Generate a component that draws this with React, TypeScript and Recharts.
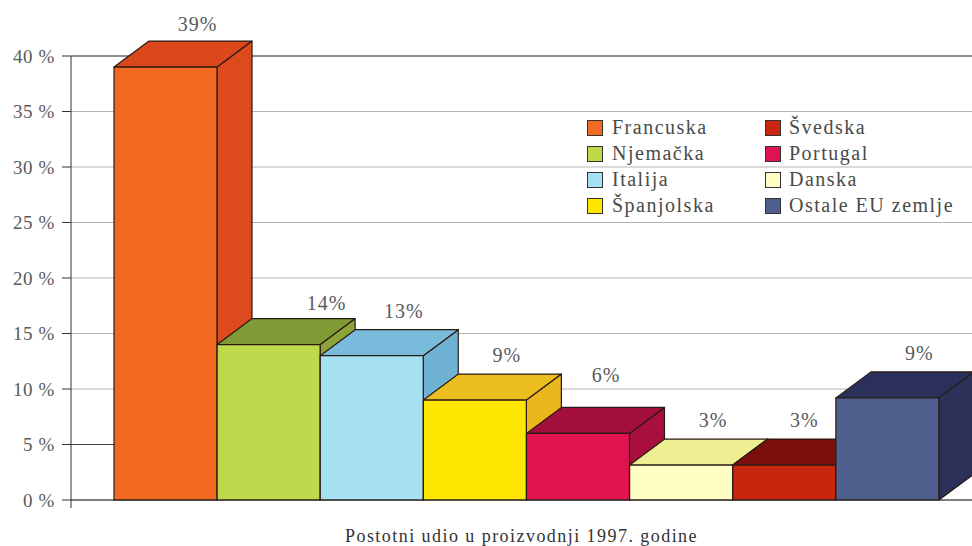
import React from "react";
import { BarChart, Bar, XAxis, YAxis, CartesianGrid, LabelList, Legend } from "recharts";

const COUNTRIES = ["Francuska", "Njemačka", "Italija", "Španjolska", "Portugal", "Danska", "Švedska", "Ostale EU zemlje"];
const SHARES = [39, 14, 13, 9, 6, 3.15, 3.15, 9.2];
const Y_TICKS = [0, 5, 10, 15, 20, 25, 30, 35, 40];
const DARK_GRID = [40, 5];
const LEGEND_LEFT = ["Francuska", "Njemačka", "Italija", "Španjolska"];
const LEGEND_RIGHT = ["Švedska", "Portugal", "Danska", "Ostale EU zemlje"];
const AXIS_TITLE = "Postotni udio u proizvodnji 1997. godine";

const FRONT = ["#F26A22", "#BFD94C", "#A5E1F0", "#FFE600", "#E0124F", "#FDFDC4", "#C9260F", "#4F608F"];
const TOP = ["#DA481C", "#7F9B36", "#78BBDA", "#EDBE20", "#A20F3A", "#EEEE92", "#7A0F0C", "#2A3059"];
const SIDE = ["#DC4A1E", "#8BA339", "#6FB2D3", "#EBB71F", "#A90F3C", "#EEEE92", "#7A0F0C", "#2B3159"];
const EDGE = "#2a1a14";
const TEXT = "#5a5a5a";
const DEPTH_X = 35;
const DEPTH_Y = 26;
const LABEL_NUDGE: Record<number, [number, number]> = { 0: [0, 2], 1: [26, 3], 4: [-4, -13], 6: [-12, 0] };

const rows = COUNTRIES.map((name, i) => ({ name, share: SHARES[i] }));

function Box(props: any) {
  const { x, y, width, height, index } = props;
  const r = x + width;
  const b = y + height;
  return (
    <g stroke={EDGE} strokeWidth={1.2} strokeLinejoin="round">
      <polygon fill={SIDE[index]} points={`${r},${y} ${r + DEPTH_X},${y - DEPTH_Y} ${r + DEPTH_X},${b - DEPTH_Y} ${r},${b}`} />
      <polygon fill={TOP[index]} points={`${x},${y} ${x + DEPTH_X},${y - DEPTH_Y} ${r + DEPTH_X},${y - DEPTH_Y} ${r},${y}`} />
      <rect x={x} y={y} width={width} height={height} fill={FRONT[index]} />
    </g>
  );
}

function ValueLabel(props: any) {
  const { x, y, width, index, value } = props;
  const [dx, dy] = LABEL_NUDGE[index] ?? [0, 0];
  return (
    <text x={x + width / 2 + 32 + dx} y={y - 38 + dy} textAnchor="middle" fontFamily="Liberation Serif" fontSize={20} letterSpacing={1} fill={TEXT}>
      {Math.round(value)}%
    </text>
  );
}

function LegendColumn({ names, left, textLeft }: { names: string[]; left: number; textLeft: number }) {
  return (
    <>
      {names.map((n, i) => (
        <div key={n} style={{ position: "absolute", left: 0, top: 0 }}>
          <span style={{ position: "absolute", left, top: 120 + i * 26, width: 14, height: 14, background: FRONT[COUNTRIES.indexOf(n)], border: "1px solid #333" }} />
          <span style={{ position: "absolute", left: textLeft, top: 116 + i * 26, whiteSpace: "nowrap", fontFamily: "Liberation Serif", fontSize: 20, letterSpacing: 1.5, color: "#4a4a4a" }}>{n}</span>
        </div>
      ))}
    </>
  );
}

function LegendBox() {
  return (
    <div>
      <LegendColumn names={LEGEND_LEFT} left={587} textLeft={612} />
      <LegendColumn names={LEGEND_RIGHT} left={765} textLeft={789} />
    </div>
  );
}

export default function App() {
  return (
    <div style={{ position: "absolute", left: 0, top: 0, width: 972, height: 546, background: "#fff", overflow: "hidden" }}>
      <BarChart width={972} height={546} data={rows} margin={{ top: 56, right: 0, bottom: 0, left: 0 }} barCategoryGap={0}>
        <CartesianGrid horizontal vertical={false} stroke="#b5b5b5" />
        <CartesianGrid horizontal vertical={false} stroke="#444" horizontalValues={DARK_GRID} />
        <XAxis
          dataKey="name"
          height={46}
          padding={{ left: 43, right: 33 }}
          tick={false}
          tickLine={false}
          axisLine={{ stroke: "#222" }}
          label={{ value: AXIS_TITLE, position: "insideBottom", offset: 4, dx: 0, fontFamily: "Liberation Serif", fontSize: 18, fill: "#333", letterSpacing: 1.45 }}
        />
        <YAxis
          width={71}
          domain={[0, 40]}
          ticks={Y_TICKS}
          interval={0}
          tickSize={9}
          tickMargin={7}
          tickFormatter={(v: number) => `${v} %`}
          tick={{ fontFamily: "Liberation Serif", fontSize: 19, letterSpacing: 0.6, fill: TEXT }}
          axisLine={{ stroke: "#333" }}
          tickLine={{ stroke: "#333" }}
        />
        <Legend content={<LegendBox />} wrapperStyle={{ position: "absolute", left: 0, top: 0, width: 0, height: 0, bottom: "auto" }} />
        <Bar dataKey="share" shape={<Box />} isAnimationActive={false}>
          <LabelList dataKey="share" content={<ValueLabel />} />
        </Bar>
        <line x1={71} y1={500} x2={71} y2={508} stroke="#333" />
      </BarChart>
    </div>
  );
}
